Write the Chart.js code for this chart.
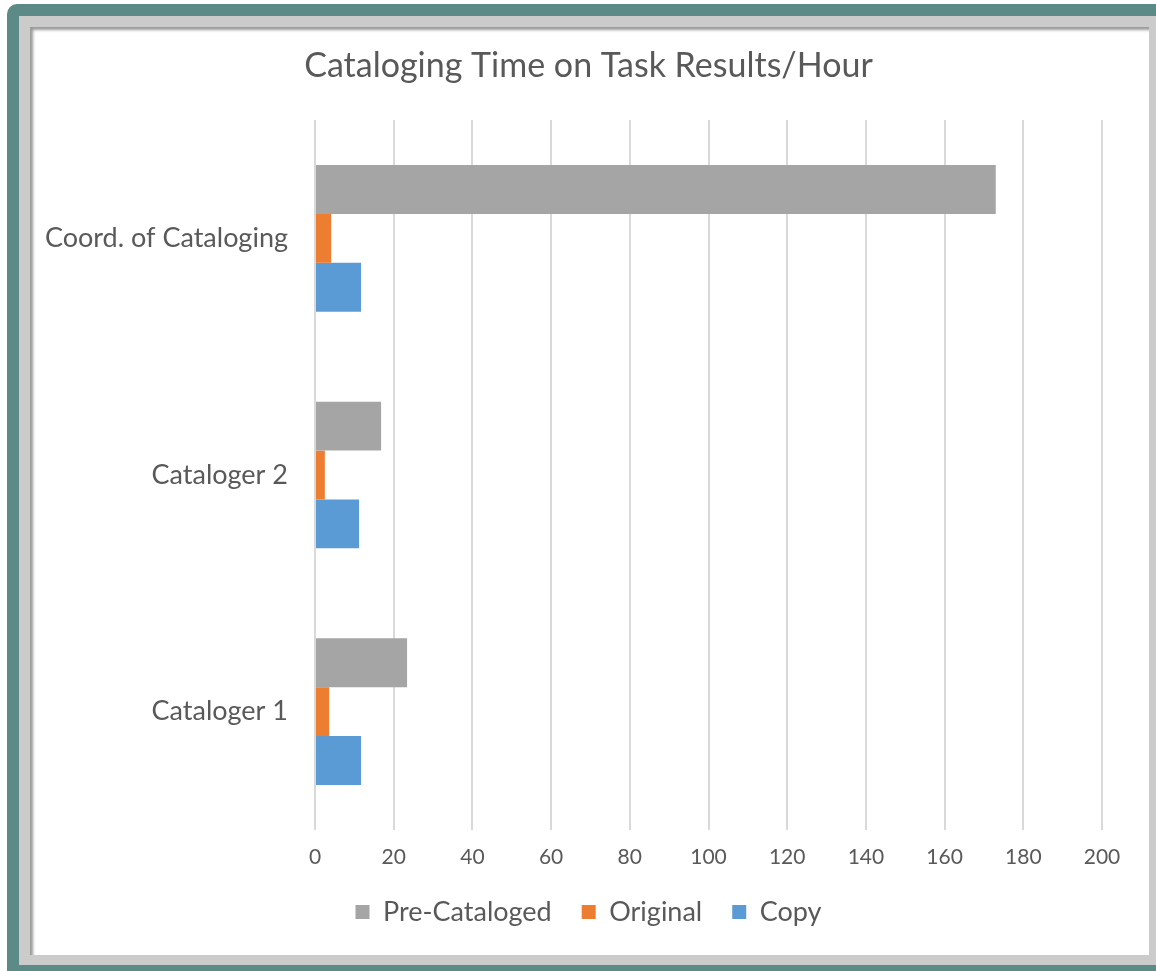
<!DOCTYPE html>
<html>
<head>
<meta charset="utf-8">
<script src="https://cdn.jsdelivr.net/npm/chart.js@4"></script>
<style>
  html, body { margin: 0; padding: 0; background: #fff; width: 1156px; height: 971px; overflow: hidden; }
  #frame { position: absolute; left: 7px; top: 4px; width: 1170px; height: 990px; background: #5b8a87; border-radius: 10px; }
  #mat { position: absolute; left: 19px; top: 16px; width: 1160px; height: 949px; background: #cbcbcb; }
  #paper { position: absolute; left: 30px; top: 27px; width: 1119px; height: 928px; background: #fff; box-shadow: inset 3px 3px 3px #9a9a9a; }
  #wrap { position: absolute; left: 30px; top: 27px; width: 1119px; height: 928px; }
</style>
</head>
<body>
<div id="frame"></div>
<div id="mat"></div>
<div id="paper"></div>
<div id="wrap"><canvas id="chart"></canvas></div>
<script>
// data
const categories = ["Coord. of Cataloging", "Cataloger 2", "Cataloger 1"];
const preCataloged = [173, 16.8, 23.4];
const original = [4.1, 2.5, 3.6];
const copy = [11.7, 11.2, 11.7];
const xTicks = [0, 20, 40, 60, 80, 100, 120, 140, 160, 180, 200];

const textColor = "#595959";
const fontFamily = "Lato, 'Liberation Sans', sans-serif";

const ctx = document.getElementById("chart").getContext("2d");
new Chart(ctx, {
  type: "bar",
  data: {
    labels: categories,
    datasets: [
      { label: "Pre-Cataloged", data: preCataloged, backgroundColor: "#a5a5a5" },
      { label: "Original", data: original, backgroundColor: "#ed7d31" },
      { label: "Copy", data: copy, backgroundColor: "#5b9bd5" },
    ],
  },
  options: {
    indexAxis: "y",
    responsive: true,
    maintainAspectRatio: false,
    animation: false,
    datasets: { bar: { barPercentage: 1, categoryPercentage: 0.62 } },
    layout: { padding: { left: 0, right: 2, top: 0, bottom: 19.5 } },
    plugins: {
      tooltip: { enabled: false },
      title: {
        display: true,
        text: "Cataloging Time on Task Results/Hour",
        color: textColor,
        font: { family: fontFamily, size: 34, weight: "normal" },
        padding: { top: 18.6, bottom: 33.6 },
      },
      legend: {
        position: "bottom",
        labels: {
          color: textColor,
          font: { family: fontFamily, size: 27 },
          boxWidth: 14,
          boxHeight: 14,
          padding: 30,
        },
      },
    },
    scales: {
      x: {
        min: 0,
        max: 200,
        afterBuildTicks: (s) => { s.ticks = xTicks.map((v) => ({ value: v })); },
        afterFit: (s) => { s.height = 38.5; },
        grid: { color: "#d9d9d9", lineWidth: 2, drawTicks: false },
        border: { display: false },
        ticks: { color: textColor, font: { family: fontFamily, size: 21 }, padding: 14.4 },
      },
      y: {
        afterFit: (s) => { s.width = 285; },
        grid: { display: false },
        border: { display: false },
        ticks: { color: textColor, font: { family: fontFamily, size: 27 }, padding: 19 },
      },
      // sumbu kosong di kanan, cuma buat geser judul & legend ke tengah
      yRight: {
        type: "category",
        position: "right",
        afterFit: (s) => { s.width = 45; },
        grid: { display: false },
        border: { display: false },
        ticks: { display: false },
      },
    },
  },
});
</script>
</body>
</html>
